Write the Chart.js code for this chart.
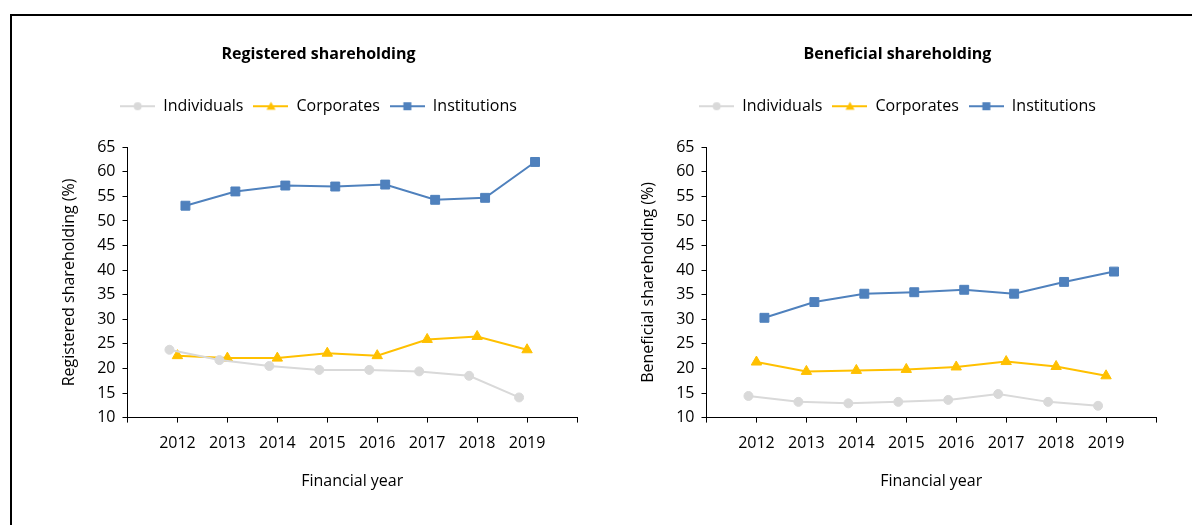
<!DOCTYPE html>
<html>
<head>
<meta charset="utf-8">
<script src="https://cdn.jsdelivr.net/npm/chart.js@4.4.0/dist/chart.umd.min.js"></script>
<style>
body { margin:0; background:#fff; overflow:hidden; width:1192px; height:525px; position:relative; }
#frame { position:absolute; left:10px; top:14px; width:1300px; height:600px; border-top:2px solid #000; border-left:2px solid #000; }
.box { position:absolute; top:0; width:596px; height:525px; }
</style>
</head>
<body>
<div id="frame"></div>
<div class="box" style="left:20px"><canvas id="registered"></canvas></div>
<div class="box" style="left:599px"><canvas id="beneficial"></canvas></div>
<script>
var years = ['2012', '2013', '2014', '2015', '2016', '2017', '2018', '2019'];
var seriesNames = ['Individuals', 'Corporates', 'Institutions'];

// registered shareholding (%)
var regIndividuals  = [23.8, 21.7, 20.5, 19.7, 19.7, 19.4, 18.5, 14.1];
var regCorporates   = [22.6, 22.1, 22.1, 23.1, 22.6, 25.9, 26.5, 23.8];
var regInstitutions = [53.1, 56.0, 57.2, 57.0, 57.4, 54.3, 54.7, 62.0];

// beneficial shareholding (%)
var benIndividuals  = [14.4, 13.2, 12.9, 13.2, 13.6, 14.8, 13.2, 12.4];
var benCorporates   = [21.3, 19.4, 19.6, 19.8, 20.3, 21.4, 20.4, 18.5];
var benInstitutions = [30.3, 33.5, 35.2, 35.5, 36.0, 35.2, 37.6, 39.7];

var colors = ['#d9d9d9', '#ffc000', '#4f81bd'];
var markers = ['circle', 'triangle', 'rect'];
var markerSize = [4.5, 6, 6.3];
var shift = [-0.16, 0, 0.16]; // series sit a little apart around each year
var FONT = "'Open Sans', sans-serif";

function legendIcon(i) {
    var c = document.createElement('canvas');
    c.width = 35; c.height = 14;
    var g = c.getContext('2d');
    g.strokeStyle = colors[i];
    g.fillStyle = colors[i];
    g.lineWidth = 2;
    g.beginPath(); g.moveTo(0, 7); g.lineTo(35, 7); g.stroke();
    g.beginPath();
    if (markers[i] == 'circle') {
        g.arc(17.5, 7, 4, 0, Math.PI * 2);
    } else if (markers[i] == 'triangle') {
        g.moveTo(17.5, 2.5); g.lineTo(22, 10.5); g.lineTo(13, 10.5); g.closePath();
    } else {
        g.rect(13.5, 3, 8, 8);
    }
    g.fill();
    return c;
}

function makeChart(id, title, yTitle, values) {
    var datasets = values.map(function (vals, i) {
        return {
            label: seriesNames[i],
            data: vals.map(function (v, j) { return {x: j + shift[i], y: v}; }),
            borderColor: colors[i],
            backgroundColor: colors[i],
            borderWidth: 2,
            pointStyle: markers[i],
            pointRadius: markerSize[i],
            pointBorderWidth: 1
        };
    });
    return new Chart(document.getElementById(id), {
        type: 'line',
        data: {datasets: datasets},
        options: {
            animation: false,
            responsive: true,
            maintainAspectRatio: false,
            layout: {padding: {left: 40, right: 39, top: 0, bottom: 34}},
            plugins: {
                tooltip: {enabled: false},
                title: {
                    display: true, text: title, color: '#000',
                    font: {family: FONT, size: 16, weight: 'bold'},
                    padding: {top: 45, bottom: 24}
                },
                subtitle: { // spacer below the legend
                    display: true, text: '', weight: 500,
                    font: {size: 10}, padding: {top: 0, bottom: 11}
                },
                legend: {
                    labels: {
                        color: '#000', font: {family: FONT, size: 16},
                        usePointStyle: true, pointStyleWidth: 35, padding: 10,
                        generateLabels: function (chart) {
                            return Chart.defaults.plugins.legend.labels.generateLabels(chart).map(function (l, i) {
                                l.pointStyle = legendIcon(i);
                                return l;
                            });
                        }
                    }
                }
            },
            scales: {
                x: {
                    type: 'linear', min: -1, max: 8,
                    grid: {drawOnChartArea: false, color: '#000', tickLength: 5},
                    border: {color: '#000', width: 1},
                    ticks: {
                        stepSize: 1, autoSkip: false, maxRotation: 0, padding: 11,
                        color: '#000', font: {family: FONT, size: 16},
                        callback: function (v) { return years[v] || ''; }
                    },
                    title: {
                        display: true, text: 'Financial year', color: '#000',
                        font: {family: FONT, size: 16}, padding: {top: 8, bottom: 0}
                    }
                },
                y: {
                    min: 10, max: 65,
                    grid: {drawOnChartArea: false, color: '#000', tickLength: 5},
                    border: {color: '#000', width: 1},
                    ticks: {stepSize: 5, padding: 7, color: '#000', font: {family: FONT, size: 16}},
                    title: {
                        display: true, text: yTitle, color: '#000',
                        font: {family: FONT, size: 16}, padding: {top: 0, bottom: 11}
                    }
                }
            }
        }
    });
}

makeChart('registered', 'Registered shareholding', 'Registered shareholding (%)',
    [regIndividuals, regCorporates, regInstitutions]);
makeChart('beneficial', 'Beneficial shareholding', 'Beneficial shareholding (%)',
    [benIndividuals, benCorporates, benInstitutions]);
</script>
</body>
</html>
